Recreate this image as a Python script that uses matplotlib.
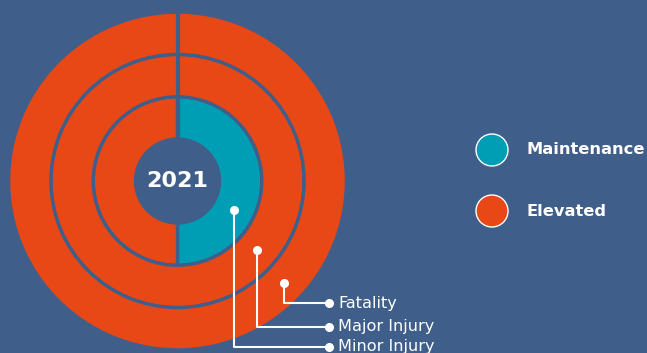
import numpy as np
import matplotlib
matplotlib.use('Agg')
import matplotlib.pyplot as plt
from matplotlib.patches import Circle

# ring data, inner to outer
rings = ['Minor Injury', 'Major Injury', 'Fatality']
maintenance = [50, 0, 0]
elevated = [50, 100, 100]
year = '2021'
legend_labels = ['Maintenance', 'Elevated']

bg = '#3f5e8a'
teal = '#009eb4'
orange = '#e84816'

fig = plt.figure(figsize=(6.47, 3.53), dpi=100, facecolor=bg)
ax = fig.add_axes([0, 0, 1, 1])
ax.set_facecolor(bg)

cx, cy = 177.5, 172
hole = 42
width = 42.3

for i in range(len(rings)):
    vals = [maintenance[i], elevated[i]]
    cols = [teal, orange]
    vals_nz = [v for v in vals if v > 0]
    cols_nz = [c for v, c in zip(vals, cols) if v > 0]
    r = hole + width * (i + 1)
    ax.pie(vals_nz, colors=cols_nz, radius=r, center=(cx, cy), startangle=90,
           counterclock=False, frame=True,
           wedgeprops=dict(width=width, edgecolor=bg, linewidth=2.4))

# divider at the top
ax.plot([cx, cx], [cy + hole, cy + hole + width * 3 + 2], color=bg, lw=3, solid_capstyle='butt')
ax.set_xlim(0, 647)
ax.set_ylim(0, 353)
ax.set_aspect('equal')
ax.axis('off')

ax.text(cx, cy, year, color='white', fontsize=16, fontweight='bold', ha='center', va='center')

# leader lines
angles = [-27.5, -40.7, -43.8]
label_y = [6.5, 26.5, 50]
for i, name in enumerate(rings):
    rm = hole + width * (i + 0.5)
    a = np.radians(angles[i])
    px, py = cx + rm * np.cos(a), cy + rm * np.sin(a)
    ax.plot([px, px, 329], [py, label_y[i], label_y[i]], color='white', lw=1.5)
    ax.plot([px, 329], [py, label_y[i]], 'o', color='white', markersize=5.5)
    ax.text(338, label_y[i] - 4.7, name, color='white', fontsize=11.6,
            va='baseline', ha='left')

# legend
for lab, col, ly in zip(legend_labels, [teal, orange], [203, 142]):
    ax.add_patch(Circle((492, ly), 16, facecolor=col, edgecolor='white', lw=1))
    ax.text(527, ly, lab, color='white', fontsize=11.7, fontweight='bold', va='center', ha='left')

fig.savefig('out.png', dpi=100, facecolor=bg)
